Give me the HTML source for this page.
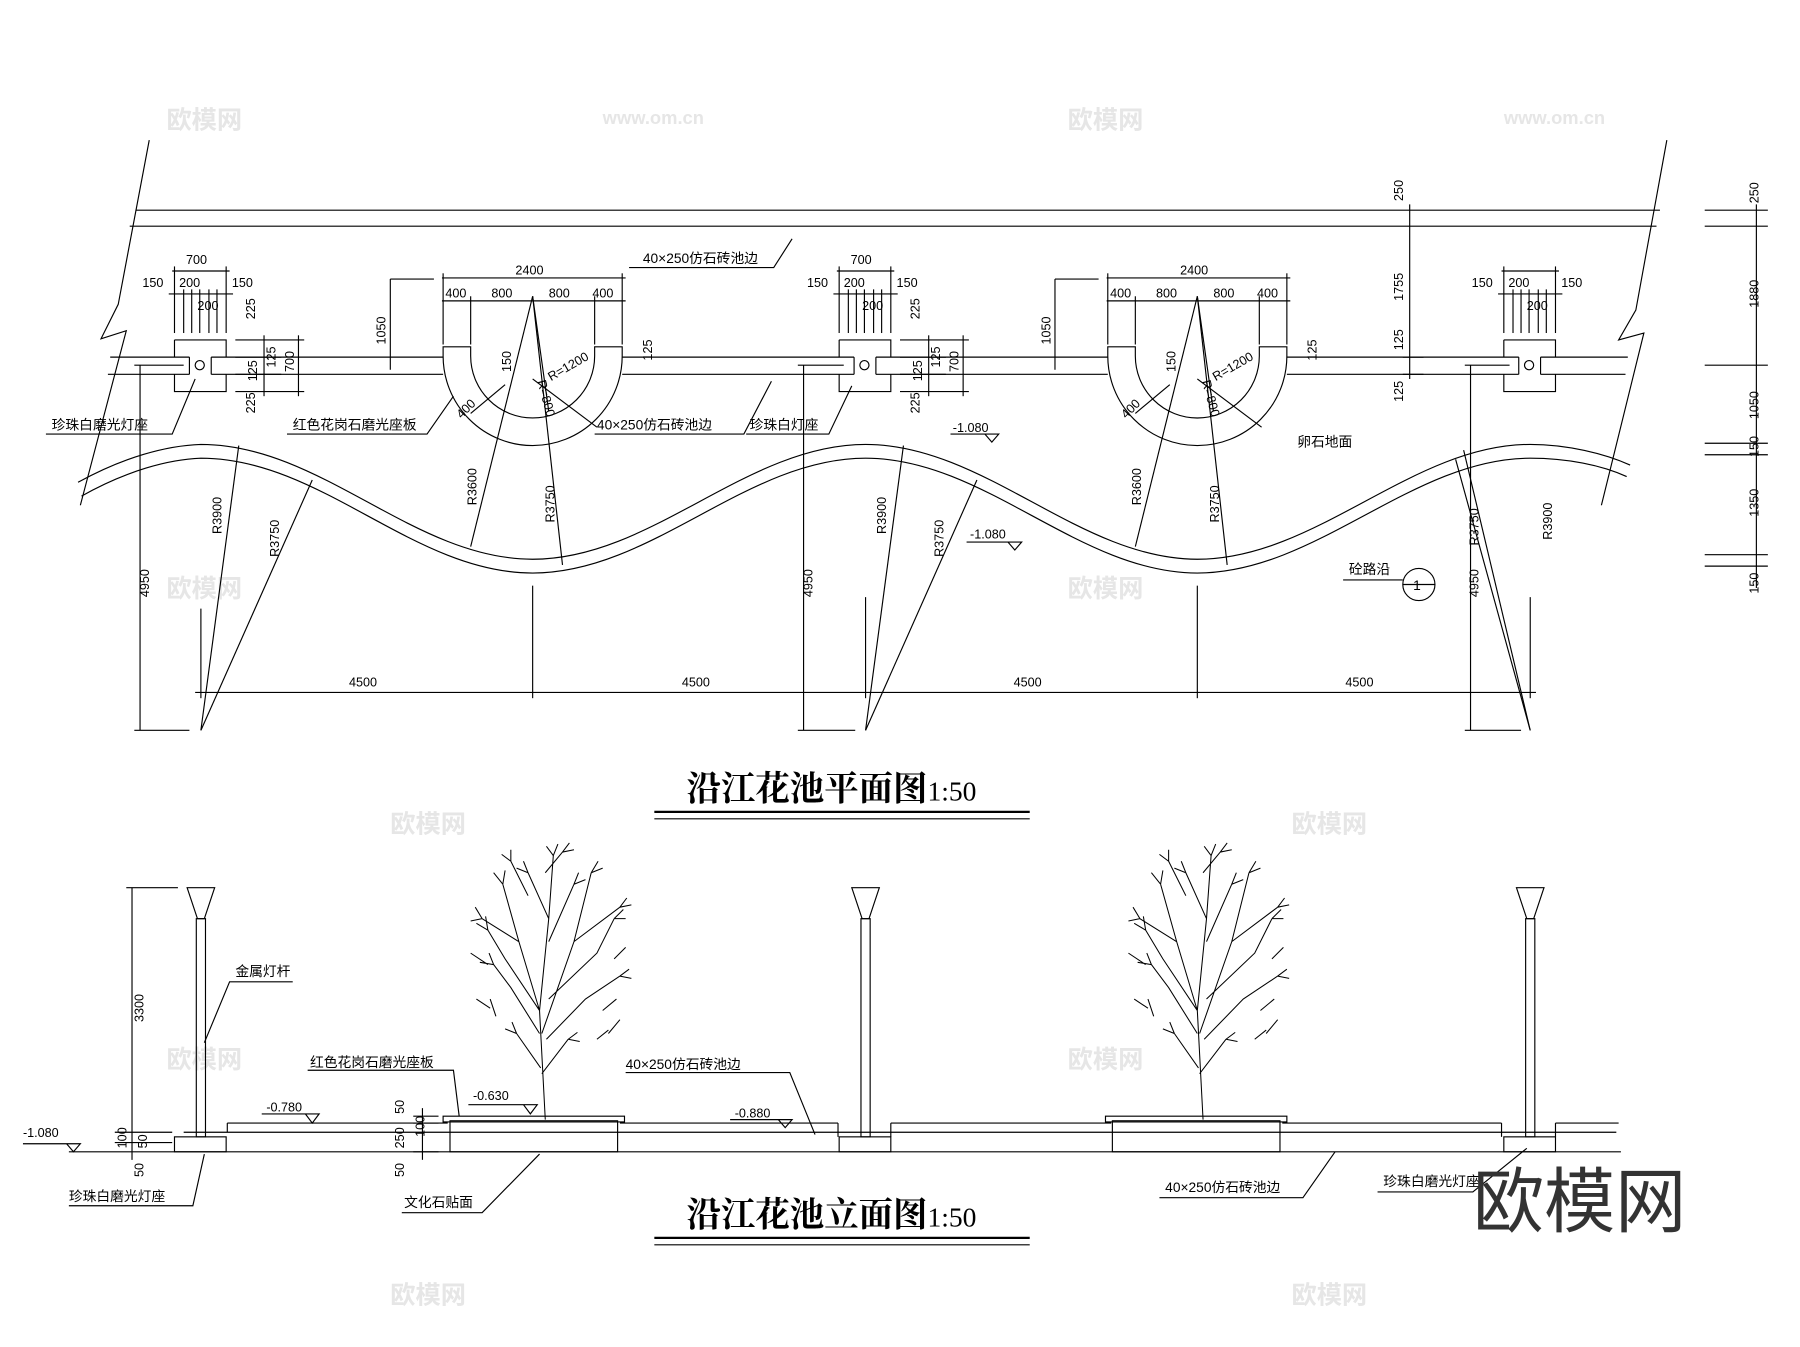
<!DOCTYPE html>
<html><head><meta charset="utf-8"><style>
html,body{margin:0;padding:0;background:#fff;}
svg{display:block;}
text{font-family:"Liberation Sans","Noto Sans CJK SC",sans-serif;fill:#000;}
.c{font-family:"Liberation Sans","Noto Sans CJK SC",sans-serif;font-size:12px;}
.d{font-size:11px;}
.t{font-family:"Liberation Serif","Noto Serif CJK SC",serif;font-size:30px;font-weight:bold;}
.w{fill:#e6e6e6;font-size:22px;font-weight:bold;}
</style></head><body>
<svg width="1800" height="1347" viewBox="0 0 1568 1173" preserveAspectRatio="none" xmlns="http://www.w3.org/2000/svg">
<g class="w">
<text x="145" y="112" class="w">欧模网</text><text x="930" y="112" class="w">欧模网</text>
<text x="525" y="108" class="w" style="font-size:16px">www.om.cn</text><text x="1310" y="108" class="w" style="font-size:16px">www.om.cn</text>
<text x="145" y="520" class="w">欧模网</text><text x="930" y="520" class="w">欧模网</text>
<text x="340" y="725" class="w">欧模网</text><text x="1125" y="725" class="w">欧模网</text>
<text x="145" y="930" class="w">欧模网</text><text x="930" y="930" class="w">欧模网</text>
<text x="340" y="1135" class="w">欧模网</text><text x="1125" y="1135" class="w">欧模网</text>
</g>
<g stroke="#000" stroke-width="1" fill="none">
<polyline points="130,122 103,265 88,295 110,288 70,440"/>
<polyline points="1452,122 1425,270 1410,296 1432,290 1395,440"/>
<line x1="118" y1="183" x2="1446" y2="183"/>
<line x1="113" y1="197" x2="1443" y2="197"/>
<line x1="96" y1="311" x2="165" y2="311"/><line x1="94" y1="326" x2="165" y2="326"/><line x1="165" y1="311" x2="165" y2="326"/>
<line x1="184" y1="311" x2="386" y2="311"/><line x1="184" y1="326" x2="386" y2="326"/><line x1="184" y1="311" x2="184" y2="326"/>
<line x1="542" y1="311" x2="744" y2="311"/><line x1="542" y1="326" x2="744" y2="326"/><line x1="744" y1="311" x2="744" y2="326"/>
<line x1="763" y1="311" x2="965" y2="311"/><line x1="763" y1="326" x2="965" y2="326"/><line x1="763" y1="311" x2="763" y2="326"/>
<line x1="1121" y1="311" x2="1323" y2="311"/><line x1="1121" y1="326" x2="1323" y2="326"/><line x1="1323" y1="311" x2="1323" y2="326"/>
<line x1="1342" y1="311" x2="1418" y2="311"/><line x1="1342" y1="326" x2="1416" y2="326"/><line x1="1342" y1="311" x2="1342" y2="326"/>
<path d="M152,296 H197 V311 M197,326 V341 H152 V326 M152,311 V296"/><circle cx="174" cy="318" r="4"/>
<path d="M731,296 H776 V311 M776,326 V341 H731 V326 M731,311 V296"/><circle cx="753" cy="318" r="4"/>
<path d="M1310,296 H1355 V311 M1355,326 V341 H1310 V326 M1310,311 V296"/><circle cx="1332" cy="318" r="4"/>
<path d="M386,302 L410,302 L410,310 A54,54 0 0 0 518,310 L518,302 L542,302 L542,310 A78,78 0 0 1 386,310 Z"/>
<path d="M965,302 L989,302 L989,310 A54,54 0 0 0 1097,310 L1097,302 L1121,302 L1121,310 A78,78 0 0 1 965,310 Z"/>
<path d="M68,420 C108,398 145,388 175,387 C280,387 360,487 464,487 C568,487 650,387 754,387 C858,387 940,487 1043,487 C1147,487 1230,387 1333,387 C1365,387 1398,395 1420,405"/>
<path d="M71,432 C110,410 147,400 175,399 C280,399 360,499 464,499 C568,499 650,399 754,399 C858,399 940,499 1043,499 C1147,499 1230,399 1333,399 C1365,399 1395,405 1417,415"/>
<line x1="122" y1="318" x2="122" y2="636"/><line x1="117" y1="636" x2="165" y2="636"/><line x1="117" y1="318" x2="160" y2="318"/>
<line x1="700" y1="318" x2="700" y2="636"/><line x1="695" y1="636" x2="745" y2="636"/><line x1="695" y1="318" x2="735" y2="318"/>
<line x1="1281" y1="318" x2="1281" y2="636"/><line x1="1276" y1="636" x2="1325" y2="636"/><line x1="1276" y1="318" x2="1315" y2="318"/>
<line x1="170" y1="603" x2="1338" y2="603"/>
<line x1="175" y1="530" x2="175" y2="608"/><line x1="464" y1="510" x2="464" y2="608"/><line x1="754" y1="520" x2="754" y2="608"/><line x1="1043" y1="510" x2="1043" y2="608"/><line x1="1333" y1="520" x2="1333" y2="608"/>
<line x1="175" y1="636" x2="208" y2="388"/><line x1="175" y1="636" x2="272" y2="418"/>
<line x1="754" y1="636" x2="787" y2="388"/><line x1="754" y1="636" x2="851" y2="418"/>
<line x1="1333" y1="636" x2="1268" y2="400"/><line x1="1333" y1="636" x2="1275" y2="392"/>
<line x1="464" y1="258" x2="410" y2="476"/><line x1="464" y1="258" x2="490" y2="492"/>
<line x1="1043" y1="258" x2="989" y2="476"/><line x1="1043" y1="258" x2="1069" y2="492"/>
<line x1="464" y1="258" x2="478" y2="358"/><line x1="464" y1="330" x2="520" y2="372"/>
<line x1="1043" y1="258" x2="1057" y2="358"/><line x1="1043" y1="330" x2="1099" y2="372"/>
<line x1="410" y1="360" x2="440" y2="335"/><line x1="989" y1="360" x2="1019" y2="335"/>
<line x1="385" y1="242" x2="545" y2="242"/><line x1="385" y1="262" x2="545" y2="262"/>
<line x1="386" y1="238" x2="386" y2="300"/><line x1="410" y1="258" x2="410" y2="300"/><line x1="518" y1="258" x2="518" y2="300"/><line x1="542" y1="238" x2="542" y2="300"/>
<line x1="964" y1="242" x2="1124" y2="242"/><line x1="964" y1="262" x2="1124" y2="262"/>
<line x1="965" y1="238" x2="965" y2="300"/><line x1="989" y1="258" x2="989" y2="300"/><line x1="1097" y1="258" x2="1097" y2="300"/><line x1="1121" y1="238" x2="1121" y2="300"/>
<line x1="340" y1="243" x2="340" y2="322"/><line x1="340" y1="243" x2="378" y2="243"/>
<line x1="919" y1="243" x2="919" y2="322"/><line x1="919" y1="243" x2="957" y2="243"/>
<g id="ldt">
<line x1="150" y1="236" x2="200" y2="236"/><line x1="147" y1="256" x2="203" y2="256"/>
<line x1="152" y1="232" x2="152" y2="290"/><line x1="160" y1="252" x2="160" y2="290"/><line x1="167" y1="252" x2="167" y2="290"/><line x1="174" y1="252" x2="174" y2="290"/><line x1="182" y1="252" x2="182" y2="290"/><line x1="189" y1="252" x2="189" y2="290"/><line x1="197" y1="232" x2="197" y2="290"/>
</g>
<g id="lds">
<line x1="205" y1="296" x2="265" y2="296"/><line x1="205" y1="341" x2="265" y2="341"/><line x1="205" y1="311" x2="245" y2="311"/><line x1="205" y1="326" x2="245" y2="326"/>
<line x1="230" y1="292" x2="230" y2="345"/><line x1="260" y1="292" x2="260" y2="345"/>
</g>
<use href="#ldt" x="579"/><use href="#ldt" x="1158"/><use href="#lds" x="579"/>
<line x1="1228" y1="178" x2="1228" y2="330"/>
<line x1="1222" y1="311" x2="1240" y2="311"/><line x1="1222" y1="326" x2="1240" y2="326"/>
<line x1="1530" y1="178" x2="1530" y2="512"/>
<line x1="1485" y1="183" x2="1540" y2="183"/><line x1="1485" y1="197" x2="1540" y2="197"/><line x1="1485" y1="318" x2="1540" y2="318"/>
<line x1="1485" y1="386" x2="1540" y2="386"/><line x1="1485" y1="396" x2="1540" y2="396"/><line x1="1485" y1="483" x2="1540" y2="483"/><line x1="1485" y1="493" x2="1540" y2="493"/>
<polyline points="40,378 150,378 170,330"/>
<polyline points="250,378 372,378 395,345"/>
<polyline points="518,378 648,378 672,332"/>
<polyline points="650,378 722,378 742,336"/>
<polyline points="548,233 674,233 690,208"/>
<polyline points="1170,505 1222,505"/>
<circle cx="1236" cy="509" r="14"/><line x1="1222" y1="509" x2="1250" y2="509"/>
<polyline points="828,378 870,378 864,385 858,378"/>
<polyline points="842,472 890,472 884,479 878,472"/>
<line x1="570" y1="707" x2="897" y2="707" stroke-width="2"/><line x1="570" y1="713" x2="897" y2="713"/>
<line x1="570" y1="1078" x2="897" y2="1078" stroke-width="2"/><line x1="570" y1="1084" x2="897" y2="1084"/>
<line x1="160" y1="986" x2="1408" y2="986"/>
<line x1="60" y1="1003" x2="1412" y2="1003"/>
<line x1="198" y1="978" x2="390" y2="978"/><line x1="540" y1="978" x2="730" y2="978"/><line x1="776" y1="978" x2="968" y2="978"/><line x1="1117" y1="978" x2="1308" y2="978"/><line x1="1355" y1="978" x2="1410" y2="978"/>
<line x1="198" y1="978" x2="198" y2="986"/><line x1="730" y1="978" x2="730" y2="990"/><line x1="776" y1="978" x2="776" y2="990"/><line x1="1308" y1="978" x2="1308" y2="990"/><line x1="1355" y1="978" x2="1355" y2="990"/>
<rect x="392" y="976" width="146" height="27"/><rect x="386" y="972" width="158" height="5"/>
<rect x="969" y="976" width="146" height="27"/><rect x="963" y="972" width="158" height="5"/>
<g id="lp">
<rect x="152" y="990" width="45" height="13"/>
<rect x="171" y="800" width="8" height="190"/>
<path d="M163,773 L187,773 L178,800 L172,800 Z"/>
</g>
<use href="#lp" x="579"/><use href="#lp" x="1158"/>
<g id="tr" stroke-width="0.9">
<path d="M475,975 L470,880 L452,820 L438,770 M470,880 L478,800 L482,745 M472,900 L500,820 L515,760 M470,880 L440,835 L425,810 M478,870 L520,830 L535,800 M470,900 L445,860 L430,840 M476,905 L510,870 L540,850 M478,800 L460,760 M478,820 L500,770 M452,820 L420,800 M500,820 L540,790 M471,930 L450,900 M472,935 L495,905 M475,760 L490,742 M460,780 L445,750"/>
<path d="M438,770 l-8,-10 m8,10 l2,-12 M425,810 l-10,-6 m10,6 l-2,-12 M430,840 l-12,-2 m12,2 l-4,-10 M420,800 l-10,2 m10,-2 l-6,-10 M515,760 l6,-10 m-6,10 l10,-4 M535,800 l8,-8 m-8,8 l10,0 M540,850 l8,-6 m-8,6 l10,2 M540,790 l6,-8 m-6,8 l10,-2 M460,760 l-4,-10 m4,10 l-10,-4 M500,770 l4,-10 m-4,10 l10,-4 M482,745 l-6,-8 m6,8 l4,-10 M450,900 l-10,-4 m10,4 l-4,-10 M495,905 l8,-6 m-8,6 l10,2 M445,750 l-8,-6 m8,6 l0,-10 M490,742 l6,-8 m-6,8 l10,-2 M410,830 l15,10 M415,870 l12,8 M432,885 l-5,-15 M525,880 l12,-10 M530,900 l10,-12 M545,825 l-10,10 M520,905 l10,-8"/>
</g>
<use href="#tr" x="573"/>
<line x1="115" y1="773" x2="115" y2="1010"/><line x1="110" y1="773" x2="155" y2="773"/>
<line x1="100" y1="986" x2="150" y2="986"/><line x1="100" y1="995" x2="150" y2="995"/>
<line x1="360" y1="972" x2="382" y2="972"/><line x1="360" y1="978" x2="382" y2="978"/><line x1="360" y1="1003" x2="382" y2="1003"/><line x1="368" y1="965" x2="368" y2="1010"/>
<polyline points="20,996 70,996 64,1003 58,996"/>
<polyline points="228,970 278,970 272,978 266,970"/>
<polyline points="408,962 468,962 462,970 456,962"/>
<polyline points="636,975 690,975 684,982 678,975"/>
<polyline points="178,908 200,855 255,855"/>
<polyline points="268,932 395,932 400,972"/>
<polyline points="545,934 688,934 710,988"/>
<polyline points="60,1050 168,1050 178,1005"/>
<polyline points="350,1056 420,1056 470,1005"/>
<polyline points="1010,1043 1135,1043 1163,1003"/>
<polyline points="1200,1038 1283,1038 1330,1000"/>
</g>
<g class="c">
<text x="560" y="229">40×250仿石砖池边</text>
<text x="45" y="374">珍珠白磨光灯座</text>
<text x="255" y="374">红色花岗石磨光座板</text>
<text x="520" y="374">40×250仿石砖池边</text>
<text x="653" y="374">珍珠白灯座</text>
<text x="1130" y="389">卵石地面</text>
<text x="1175" y="500">砼路沿</text>
<text x="205" y="850">金属灯杆</text>
<text x="270" y="929">红色花岗石磨光座板</text>
<text x="545" y="931">40×250仿石砖池边</text>
<text x="60" y="1046">珍珠白磨光灯座</text>
<text x="352" y="1051">文化石贴面</text>
<text x="1015" y="1038">40×250仿石砖池边</text>
<text x="1205" y="1033">珍珠白磨光灯座</text>
</g>
<g class="d">
<text x="1231" y="514" font-size="12">1</text>
<text x="830" y="376">-1.080</text><text x="845" y="469">-1.080</text>
<text x="20" y="990">-1.080</text><text x="232" y="968">-0.780</text><text x="412" y="958">-0.630</text><text x="640" y="973">-0.880</text>
<text x="304" y="598">4500</text><text x="594" y="598">4500</text><text x="883" y="598">4500</text><text x="1172" y="598">4500</text>
<text x="162" y="230">700</text><text x="741" y="230">700</text>
<text x="124" y="250">150</text><text x="156" y="250">200</text><text x="202" y="250">150</text><text x="172" y="270">200</text>
<text x="703" y="250">150</text><text x="735" y="250">200</text><text x="781" y="250">150</text><text x="751" y="270">200</text>
<text x="1282" y="250">150</text><text x="1314" y="250">200</text><text x="1360" y="250">150</text><text x="1330" y="270">200</text>
<text x="449" y="239">2400</text><text x="1028" y="239">2400</text>
<text x="388" y="259">400</text><text x="428" y="259">800</text><text x="478" y="259">800</text><text x="516" y="259">400</text>
<text x="967" y="259">400</text><text x="1007" y="259">800</text><text x="1057" y="259">800</text><text x="1095" y="259">400</text>
<g transform="rotate(-90)">
<text x="-300" y="336">1050</text><text x="-300" y="915">1050</text>
<text x="-278" y="222">225</text><text x="-360" y="222">225</text><text x="-332" y="224">125</text><text x="-320" y="240">125</text><text x="-324" y="256">700</text>
<text x="-278" y="801">225</text><text x="-360" y="801">225</text><text x="-332" y="803">125</text><text x="-320" y="819">125</text><text x="-324" y="835">700</text>
<text x="-520" y="130">4950</text><text x="-520" y="708">4950</text><text x="-520" y="1288">4950</text>
<text x="-465" y="193">R3900</text><text x="-485" y="243">R3750</text>
<text x="-465" y="772">R3900</text><text x="-485" y="822">R3750</text>
<text x="-475" y="1288">R3750</text><text x="-470" y="1352">R3900</text>
<text x="-440" y="415">R3600</text><text x="-455" y="483">R3750</text>
<text x="-440" y="994">R3600</text><text x="-455" y="1062">R3750</text>
<text x="-175" y="1222">250</text><text x="-262" y="1222">1755</text><text x="-305" y="1222">125</text><text x="-350" y="1222">125</text>
<text x="-177" y="1532">250</text><text x="-268" y="1532">1880</text><text x="-365" y="1532">1050</text><text x="-398" y="1532">150</text><text x="-450" y="1532">1350</text><text x="-517" y="1532">150</text>
<text x="-890" y="125">3300</text><text x="-1000" y="110">100</text><text x="-1000" y="128">50</text><text x="-1025" y="125">50</text>
<text x="-970" y="352">50</text><text x="-1000" y="352">250</text><text x="-990" y="370">100</text><text x="-1025" y="352">50</text>
<text x="-314" y="568">125</text><text x="-314" y="1147">125</text>
<text x="-324" y="445">150</text><text x="-324" y="1024">150</text>
</g>
<text x="480" y="332" transform="rotate(-30 480 332)">R=1200</text>
<text x="1059" y="332" transform="rotate(-30 1059 332)">R=1200</text>
<text x="468" y="332" transform="rotate(75 468 332)">R=800</text>
<text x="1047" y="332" transform="rotate(75 1047 332)">R=800</text>
<text x="402" y="365" transform="rotate(-45 402 365)">400</text>
<text x="981" y="365" transform="rotate(-45 981 365)">400</text>
</g>
<text x="598" y="697" class="t">沿江花池平面图<tspan style="font-weight:normal;font-size:24px">1:50</tspan></text>
<text x="598" y="1068" class="t">沿江花池立面图<tspan style="font-weight:normal;font-size:24px">1:50</tspan></text>
<text x="1283" y="1068" style="font-size:62px;fill:#333;font-family:'Noto Sans CJK SC',sans-serif">欧模网</text>
</svg>
</body></html>
